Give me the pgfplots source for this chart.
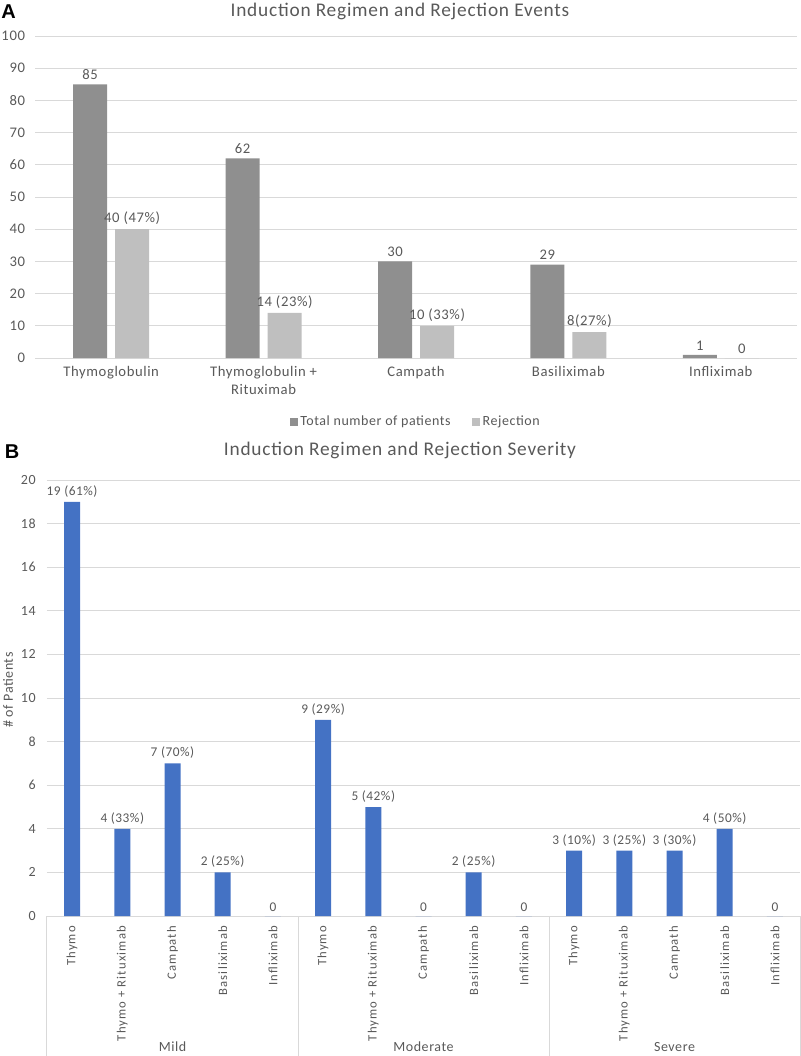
\documentclass[border=0pt]{standalone}
\usepackage{pgfplots}
\pgfplotsset{compat=1.18}
\usepackage{fontspec}
\setmainfont{Carlito}
\newfontfamily\arialfont{Liberation Sans}
\newfontfamily\spaced[LetterSpace=4]{Carlito}
\newfontfamily\wide[LetterSpace=9]{Carlito}
\definecolor{txt}{HTML}{595959}
\definecolor{darkbar}{HTML}{8F8F8F}
\definecolor{lightbar}{HTML}{BFBFBF}
\definecolor{bluebar}{HTML}{4472C4}
\definecolor{gridc}{HTML}{D9D9D9}
\begin{document}
\begin{tikzpicture}
\useasboundingbox (0,0) rectangle (600pt,-792pt);
% ---------- Panel A ----------
\node[font=\arialfont\bfseries\fontsize{15}{17}\selectfont, text=black] at (6.5pt,-9pt) {A};
\node[font=\spaced\fontsize{14.5}{16}\selectfont, text=txt] at (300pt,-8.5pt) {Induction Regimen and Rejection Events};
\begin{axis}[
  at={(26.25pt,-268.5pt)}, anchor=south west,
  scale only axis, width=571.5pt, height=241.5pt,
  ybar=6pt, bar width=25.5pt,
  xmin=-0.5, xmax=4.5, ymin=0, ymax=100,
  xtick={0,1,2,3,4},
  xticklabels={Thymoglobulin, {Thymoglobulin +\\Rituximab}, Campath, Basiliximab, Infliximab},
  xticklabel style={align=center, font=\spaced\fontsize{11}{13.5}\selectfont, text=txt, yshift=-3pt},
  ytick={0,10,...,100},
  yticklabel style={font=\spaced\fontsize{11}{12}\selectfont, text=txt, xshift=-4pt},
  /pgf/number format/assume math mode=true,
  major tick length=0pt,
  axis line style={draw=none},
  ymajorgrids, grid style={gridc, line width=0.75pt},
  nodes near coords, point meta=explicit symbolic,
  nodes near coords style={font=\spaced\fontsize{11}{12}\selectfont, text=txt},
  legend style={at={(0.5,-0.199)}, anchor=center, draw=none, legend columns=2,
     font=\spaced\fontsize{10.5}{12}\selectfont, text=txt,
     /tikz/every even column/.append style={column sep=14pt}},
  legend image code/.code={\fill[#1,draw=none] (0pt,-3pt) rectangle (6pt,3pt);},
  clip=false,
]
\addplot[fill=darkbar, draw=none] coordinates {(0,85)[85] (1,62)[62] (2,30)[30] (3,29)[29] (4,1)[1]};
\addplot[fill=lightbar, draw=none] coordinates {(0,40)[40 (47\%)] (1,14)[14 (23\%)] (2,10)[10 (33\%)] (3,8)[8(27\%)] (4,0)[0]};
\legend{Total number of patients, Rejection}
\end{axis}
% ---------- Panel B ----------
\node[font=\arialfont\bfseries\fontsize{15}{17}\selectfont, text=black] at (9pt,-339pt) {B};
\node[font=\spaced\fontsize{14.5}{16}\selectfont, text=txt] at (300pt,-337.5pt) {Induction Regimen and Rejection Severity};
\begin{axis}[
  at={(35.25pt,-687pt)}, anchor=south west,
  scale only axis, width=564.75pt, height=327pt,
  ybar, bar width=12pt,
  xmin=-0.5, xmax=14.5, ymin=0, ymax=20,
  xtick={0,...,14},
  xticklabels={Thymo, Thymo + Rituximab, Campath, Basiliximab, Infliximab,
               Thymo, Thymo + Rituximab, Campath, Basiliximab, Infliximab,
               Thymo, Thymo + Rituximab, Campath, Basiliximab, Infliximab},
  xticklabel style={rotate=90, anchor=east, font=\wide\fontsize{9.5}{11}\selectfont, text=txt},
  xticklabel shift=4pt,
  ytick={0,2,...,20},
  yticklabel style={font=\spaced\fontsize{10.5}{12}\selectfont, text=txt, xshift=-5pt},
  /pgf/number format/assume math mode=true,
  major tick length=0pt,
  axis line style={draw=none},
  ymajorgrids, grid style={gridc, line width=0.75pt},
  nodes near coords, point meta=explicit symbolic,
  nodes near coords style={font=\spaced\fontsize{10}{11}\selectfont, text=txt},
  clip=false,
]
\addplot[fill=bluebar, draw=none] coordinates {
 (0,19)[19 (61\%)] (1,4)[4 (33\%)] (2,7)[7 (70\%)] (3,2)[2 (25\%)] (4,0)[0]
 (5,9)[9 (29\%)] (6,5)[5 (42\%)] (7,0)[0] (8,2)[2 (25\%)] (9,0)[0]
 (10,3)[3 (10\%)] (11,3)[3 (25\%)] (12,3)[3 (30\%)] (13,4)[4 (50\%)] (14,0)[0]};
\draw[gridc, line width=0.75pt] (axis cs:-0.5,0) -- ++(0pt,-105pt);
\draw[gridc, line width=0.75pt] (axis cs:4.5,0) -- ++(0pt,-105pt);
\draw[gridc, line width=0.75pt] (axis cs:9.5,0) -- ++(0pt,-105pt);
\draw[gridc, line width=0.75pt] (axis cs:14.5,0) -- ++(0pt,-105pt);
\node[font=\spaced\fontsize{10.5}{12}\selectfont, text=txt] at ([yshift=-98.25pt]axis cs:2,0) {Mild};
\node[font=\spaced\fontsize{10.5}{12}\selectfont, text=txt] at ([yshift=-98.25pt]axis cs:7,0) {Moderate};
\node[font=\spaced\fontsize{10.5}{12}\selectfont, text=txt] at ([yshift=-98.25pt]axis cs:12,0) {Severe};
\node[rotate=90, font=\spaced\fontsize{10.5}{12}\selectfont, text=txt] at ([xshift=-29.25pt]rel axis cs:0,0.518) {\# of Patients};
\end{axis}
\end{tikzpicture}
\end{document}
